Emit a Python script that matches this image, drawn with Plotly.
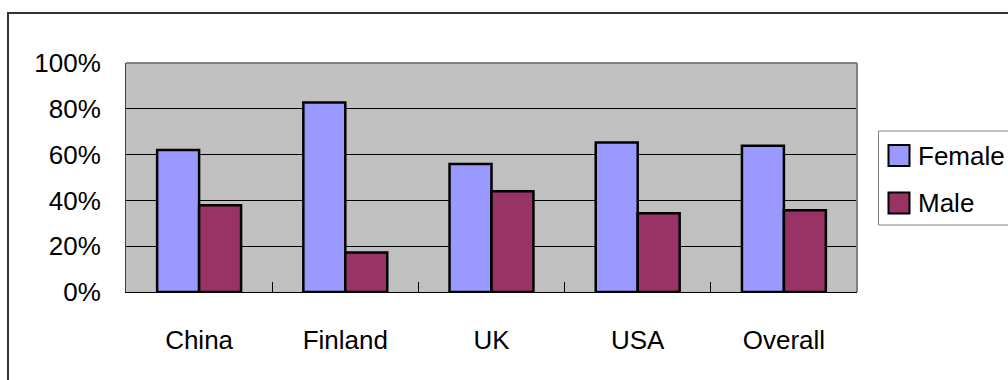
import plotly.graph_objects as go

categories = ["China", "Finland", "UK", "USA", "Overall"]
female = [0.62, 0.827, 0.559, 0.653, 0.639]
male = [0.379, 0.173, 0.44, 0.344, 0.357]
series_names = ["Female", "Male"]
series_colors = ["#9999FF", "#993366"]

W, H = 1008, 380
L, R, T, B = 126, 151, 63, 88
pw, ph = W - L - R, H - T - B

def px(x):
    return (x - L) / pw

def py(y):
    return (H - B - y) / ph

FONT = "Liberation Sans, Arial, sans-serif"
FS = 26

fig = go.Figure()
for name, vals, col in zip(series_names, [female, male], series_colors):
    fig.add_trace(go.Bar(
        x=categories, y=vals, name=name,
        marker=dict(color=col, line=dict(color="black", width=2.5)),
        showlegend=False,
    ))

shapes = [
    # outer chart border
    dict(type="rect", xref="paper", yref="paper",
         x0=px(8), x1=px(1012), y0=py(384), y1=py(13),
         line=dict(color="#333333", width=2), fillcolor="rgba(0,0,0,0)", layer="above"),
    # legend box
    dict(type="rect", xref="paper", yref="paper",
         x0=px(878.5), x1=px(1012), y0=py(225), y1=py(131),
         line=dict(color="#808080", width=1), fillcolor="white"),
]
annotations = []
legend_rows = [155.5, 203]
for name, col, yc in zip(series_names, series_colors, legend_rows):
    shapes.append(dict(type="rect", xref="paper", yref="paper",
                       x0=px(888.5), x1=px(909.5), y0=py(yc + 10.5), y1=py(yc - 10.5),
                       line=dict(color="black", width=2), fillcolor=col))
    annotations.append(dict(xref="paper", yref="paper", x=px(916), y=py(yc),
                            xanchor="left", yanchor="middle", text=name, showarrow=False,
                            font=dict(family=FONT, size=FS, color="black")))

fig.update_layout(
    width=W, height=H,
    margin=dict(l=L, r=R, t=T, b=B, pad=0),
    paper_bgcolor="white",
    plot_bgcolor="#C0C0C0",
    barmode="group",
    bargap=0.426,
    bargroupgap=0,
    font=dict(family=FONT, size=FS, color="black"),
    shapes=shapes,
    annotations=annotations,
    showlegend=False,
)
fig.update_yaxes(
    range=[0, 1], dtick=0.2, tickformat=".0%",
    showgrid=True, gridcolor="black", gridwidth=1,
    showline=True, linecolor="#404040", linewidth=1, mirror=False,
    ticks="", ticklabelstandoff=19,
    tickfont=dict(family=FONT, size=FS, color="black"),
    zeroline=False, fixedrange=True,
)
fig.update_xaxes(
    showline=True, linecolor="black", linewidth=1,
    ticks="inside", tickson="boundaries", ticklen=10, tickcolor="black", tickwidth=1,
    ticklabelstandoff=25,
    tickfont=dict(family=FONT, size=FS, color="black"),
    showgrid=False, fixedrange=True,
)
# gray border on top/right of plot area
fig.add_shape(type="line", xref="paper", yref="paper", x0=0, x1=1, y0=1, y1=1,
              line=dict(color="#808080", width=2), layer="above")
fig.add_shape(type="line", xref="paper", yref="paper", x0=1, x1=1, y0=0, y1=1,
              line=dict(color="#808080", width=2), layer="above")

fig.write_html("out.html")
